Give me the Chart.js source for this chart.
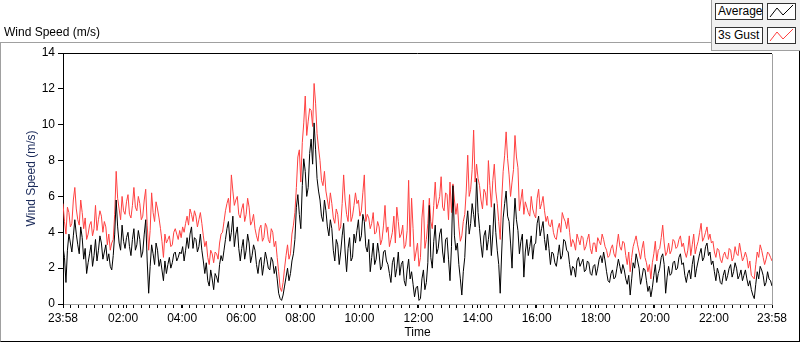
<!DOCTYPE html>
<html>
<head>
<meta charset="utf-8">
<script src="https://cdn.jsdelivr.net/npm/chart.js@4.4.0/dist/chart.umd.min.js"></script>
<style>
html,body{margin:0;padding:0;background:#fff;}
body{width:800px;height:342px;position:relative;overflow:hidden;font-family:"Liberation Sans",Arial,sans-serif;font-size:12px;color:#000;}
#frame{position:absolute;left:0;top:42px;width:798px;height:298px;border-top:1px solid #a0a0a0;border-left:1px solid #a0a0a0;border-right:1px solid #000;border-bottom:1px solid #000;z-index:0;}
#title{position:absolute;left:4px;top:25px;line-height:14px;white-space:nowrap;z-index:3;}
#c{position:absolute;left:0;top:0;z-index:1;}
#legend{position:absolute;left:711px;top:0;width:89px;height:51px;box-sizing:border-box;background:#f0f0f0;border-left:1px solid #a0a0a0;border-bottom:1px solid #a0a0a0;z-index:2;}
.lbl{position:absolute;left:3px;width:48px;height:17px;box-sizing:border-box;border:1px solid #333;background:#fff;line-height:15px;padding-left:2px;white-space:nowrap;}
.ico{position:absolute;left:55px;width:29px;height:17px;box-sizing:border-box;border:1px solid #333;background:#fff;}
.ico svg{position:absolute;left:0;top:0;}
</style>
</head>
<body>
<div id="frame"></div>
<div id="title">Wind Speed (m/s)</div>
<canvas id="c" width="800" height="342"></canvas>
<div id="legend">
  <div class="lbl" style="top:3px">Average</div>
  <div class="ico" style="top:3px"><svg width="27" height="15"><polyline points="2,13 9,4 15,11 25,1" fill="none" stroke="#000" stroke-width="1"/></svg></div>
  <div class="lbl" style="top:27px">3s Gust</div>
  <div class="ico" style="top:27px"><svg width="27" height="15"><polyline points="2,13 9,4 15,11 25,1" fill="none" stroke="#ff4040" stroke-width="1"/></svg></div>
</div>
<script>
// Sampling interval (minutes) from the 23:58 start
const sampleMinutes = 3;

// Average wind speed (m/s), one value every 3 minutes
const avgSpeed = [
  3.2,2.6,1.2,3.0,3.9,3.4,2.9,3.8,4.7,3.9,3.3,2.8,4.3,3.7,2.5,3.1,1.7,2.3,2.8,3.3,2.1,2.7,3.6,2.4,3.0,3.8,3.4,2.5,2.9,3.3,2.4,2.8,2.1,1.9,2.7,3.9,5.8,4.3,3.4,3.0,
  4.4,3.5,3.1,3.7,4.0,3.2,2.7,3.6,4.2,3.0,3.3,4.1,3.6,2.6,2.9,3.9,4.7,2.4,0.6,2.1,3.3,2.8,2.2,3.4,3.0,2.1,2.5,1.9,1.3,2.4,1.7,2.2,2.6,2.0,2.3,2.8,2.9,2.4,2.6,2.9,
  2.8,3.2,2.4,3.0,3.7,3.1,3.9,4.3,3.1,3.7,3.6,2.9,3.2,3.9,3.0,2.4,1.7,2.3,1.3,1.0,1.9,1.4,0.8,1.7,1.5,1.2,2.2,2.7,2.4,3.0,3.6,4.2,4.6,3.5,4.0,4.9,3.2,3.9,4.3,3.1,
  2.4,3.1,3.6,2.5,3.0,3.9,3.4,2.3,2.7,3.3,3.0,2.2,1.7,2.4,2.6,1.6,2.2,2.9,2.5,2.0,1.9,2.6,2.4,1.7,2.1,1.4,0.6,0.3,0.2,0.5,1.0,1.5,2.0,1.3,1.7,2.4,2.8,3.6,5.4,6.1,
  5.0,4.2,6.6,8.1,7.4,6.0,6.5,8.4,9.2,7.8,10.1,8.6,7.0,6.3,5.8,4.9,4.6,5.8,5.2,4.3,3.8,4.7,4.2,3.0,2.4,3.6,3.3,2.2,2.9,3.8,4.5,2.9,1.8,3.1,3.7,2.4,2.6,3.9,3.4,4.1,
  4.7,3.5,3.8,5.0,4.6,3.2,2.9,3.6,1.8,2.6,3.4,2.2,2.5,3.4,2.8,1.9,2.1,2.9,3.0,2.4,2.2,1.7,1.2,2.3,2.6,1.5,2.0,2.9,1.6,2.2,2.4,1.3,1.0,1.9,2.5,1.4,1.8,1.1,0.4,0.9,
  1.0,0.2,0.3,1.4,1.9,0.8,1.2,2.3,5.5,2.6,2.0,3.5,4.4,2.8,3.1,3.9,4.2,2.9,2.3,3.6,3.7,2.5,1.3,3.2,6.6,3.8,3.0,3.4,2.2,1.4,0.5,1.8,2.6,4.4,5.2,3.9,4.5,5.6,5.0,4.3,
  7.0,5.1,4.2,3.3,2.6,3.8,4.1,3.0,3.6,4.4,2.7,3.9,5.6,4.0,3.0,2.2,0.6,2.9,4.8,5.6,6.3,4.9,4.6,3.4,2.0,4.3,5.9,4.7,4.1,2.8,3.5,3.9,1.5,2.9,3.6,2.7,3.2,3.8,2.5,3.3,
  3.4,4.5,4.9,3.8,4.2,4.6,3.6,3.0,3.9,3.1,2.2,2.9,2.8,2.3,2.1,2.7,3.3,2.5,2.7,3.6,3.5,3.0,2.9,2.2,1.6,2.1,2.0,1.5,2.4,2.6,2.1,2.3,2.5,1.8,1.9,2.4,2.3,1.7,1.6,2.1,
  2.2,1.6,2.0,2.5,2.7,2.3,2.9,2.4,1.8,1.3,1.2,1.7,1.9,1.4,1.5,2.0,2.5,2.1,1.7,2.2,1.9,1.4,1.1,1.6,0.5,1.4,2.3,2.0,2.8,2.4,2.0,1.1,1.5,2.0,1.9,1.3,0.7,1.0,0.4,0.9,
  1.6,2.2,1.2,1.7,2.0,2.6,2.8,2.2,0.6,1.5,2.1,1.6,1.7,2.3,2.4,1.9,2.0,2.6,2.8,2.2,2.3,1.6,1.2,1.7,1.9,1.4,2.2,2.7,1.5,2.0,2.4,2.8,3.1,2.4,2.6,3.2,3.4,2.7,2.9,2.2,
  2.4,1.8,1.3,2.0,1.7,1.2,1.1,1.6,1.9,1.3,1.6,2.0,2.2,1.5,1.8,2.3,2.0,1.4,1.6,1.9,1.3,1.6,1.9,1.4,1.0,1.3,0.8,0.5,0.3,1.1,1.8,1.4,2.1,1.9,1.6,1.0,1.2,1.8,1.4,1.3,1.0
];

// 3s gust wind speed (m/s), one value every 3 minutes
const gustSpeed = [
  5.6,4.6,3.9,5.4,5.1,4.3,4.5,5.8,6.5,5.3,4.7,4.4,5.8,5.1,4.2,4.8,3.6,3.9,4.4,4.6,3.8,4.2,5.5,4.1,4.7,5.2,4.9,4.0,4.6,4.3,3.3,3.9,3.0,3.4,3.6,5.0,7.4,5.9,5.3,4.7,
  6.0,5.2,5.0,5.7,6.1,5.0,4.8,5.5,6.5,5.4,5.2,6.0,5.6,4.7,4.9,5.8,6.4,4.4,3.0,4.1,6.2,5.1,4.6,5.7,5.3,4.8,4.2,3.5,2.6,3.9,3.4,3.6,3.8,3.2,3.3,4.0,4.2,3.9,3.6,4.1,
  3.7,4.3,4.0,4.5,4.9,4.4,5.3,5.0,4.6,5.2,4.9,4.3,4.7,5.1,4.5,3.8,3.2,3.5,2.6,2.2,3.0,2.8,2.3,2.9,2.8,2.5,3.4,3.9,4.0,4.6,5.2,5.6,5.9,5.1,7.2,6.3,5.5,5.8,6.0,5.0,
  4.8,5.3,5.6,4.6,5.0,5.9,5.4,4.4,4.6,5.0,4.2,3.8,3.5,4.2,4.4,3.5,3.7,4.5,4.3,3.6,3.4,4.2,4.0,3.2,3.5,2.6,1.8,0.9,0.7,1.2,2.0,2.7,3.3,2.5,2.8,3.9,4.4,5.1,6.5,8.2,
  8.6,6.8,9.0,10.1,11.6,9.4,10.2,10.9,10.8,9.9,12.3,11.2,9.5,8.7,8.0,6.9,6.6,7.4,6.3,5.8,5.3,6.2,5.6,4.8,4.5,5.3,5.0,4.1,4.3,5.6,7.2,5.8,5.0,4.6,6.1,4.6,4.9,5.5,6.2,5.6,
  5.8,4.9,5.2,6.2,7.2,4.6,5.0,4.8,4.2,4.5,5.1,3.9,4.0,4.6,4.3,3.3,3.6,4.4,5.5,4.0,4.3,3.2,3.6,4.0,4.9,3.4,5.4,4.6,3.7,3.9,4.4,3.1,3.3,4.1,6.9,3.2,5.9,4.2,2.4,2.9,
  3.4,2.1,2.6,4.8,5.8,3.1,3.6,4.5,5.9,4.6,4.2,5.5,6.8,5.3,5.6,6.0,7.1,5.4,5.2,6.2,6.1,4.7,6.8,5.1,6.7,5.8,5.0,5.6,4.3,3.5,3.8,4.6,5.0,6.3,8.3,6.0,6.4,7.5,9.7,6.8,
  7.8,7.0,6.6,5.8,5.3,6.4,6.2,5.5,8.0,6.6,5.4,6.9,7.8,6.3,5.6,4.6,3.6,5.8,7.4,8.3,9.6,8.1,7.2,6.0,6.8,7.5,9.4,8.2,7.6,5.2,5.8,6.4,5.0,5.7,5.4,5.1,4.9,6.0,5.3,5.0,
  4.8,5.9,6.4,5.3,5.6,6.0,5.2,4.6,4.9,4.4,4.3,4.7,4.0,3.7,3.6,4.2,4.5,4.0,5.1,4.8,4.6,4.2,4.8,4.0,3.2,3.6,3.4,3.0,3.9,3.6,3.3,3.8,3.7,3.0,3.2,3.6,3.9,3.1,2.8,3.4,
  3.4,2.9,3.7,3.5,3.3,3.9,3.6,3.2,3.0,2.6,2.7,3.1,3.3,2.8,2.6,3.3,3.9,3.2,3.0,3.5,3.4,2.7,2.2,2.9,1.8,2.6,3.2,3.5,3.8,3.3,2.9,2.5,3.1,3.5,2.6,2.3,1.8,2.2,1.4,2.3,
  2.8,3.5,2.4,3.0,3.1,3.7,4.4,3.4,2.7,2.9,3.4,2.8,3.0,3.6,3.5,3.1,3.2,3.6,3.8,3.2,3.4,2.9,2.6,3.0,3.8,2.7,3.3,3.9,2.8,3.2,3.5,4.0,4.5,3.5,3.7,4.0,4.3,3.6,3.9,3.4,
  3.5,2.9,2.6,3.1,3.0,2.5,2.3,2.7,2.9,2.6,2.5,3.1,3.0,2.4,2.6,3.2,2.8,2.7,3.4,2.9,2.4,2.6,2.9,2.6,2.0,2.4,1.6,1.5,1.4,2.2,2.9,2.6,3.3,3.0,2.6,2.2,2.5,2.9,2.8,2.6,2.4
];

// Time axis labels (minutes after 23:58) and their texts
const xTickMinutes = [0,122,242,362,482,602,722,842,962,1082,1202,1322,1440];
const xTickLabels  = ['23:58','02:00','04:00','06:00','08:00','10:00','12:00','14:00','16:00','18:00','20:00','22:00','23:58'];
const yTickValues  = [0,2,4,6,8,10,12,14];
const seriesNames  = ['Average','3s Gust'];

const FONT = {family:'"Liberation Sans", Arial, sans-serif', size:12};

const toXY = arr => arr.map((v,i)=>({x:i*sampleMinutes, y:v}));

const framePlugin = {
  id:'plotFrame',
  afterDraw(chart){
    const {ctx, chartArea:a} = chart;
    ctx.save();
    ctx.lineWidth = 1;
    ctx.strokeStyle = '#000';
    ctx.beginPath();
    ctx.moveTo(a.left, a.top + 0.5);
    ctx.lineTo(a.right, a.top + 0.5);
    ctx.stroke();
    ctx.strokeStyle = '#a0a0a0';
    ctx.beginPath();
    ctx.moveTo(a.right + 0.5, a.top + 1);
    ctx.lineTo(a.right + 0.5, a.bottom);
    ctx.stroke();
    ctx.restore();
  }
};

new Chart(document.getElementById('c'), {
  type:'line',
  data:{
    datasets:[
      {label:seriesNames[0], data:toXY(avgSpeed), borderColor:'#000', borderWidth:1, pointRadius:0, tension:0},
      {label:seriesNames[1], data:toXY(gustSpeed), borderColor:'#ff4040', borderWidth:1, pointRadius:0, tension:0}
    ]
  },
  options:{
    responsive:false,
    devicePixelRatio:1,
    animation:false,
    events:[],
    layout:{padding:{left:0, top:53, right:28, bottom:0}},
    plugins:{legend:{display:false}, tooltip:{enabled:false}},
    scales:{
      x:{
        type:'linear', min:0, max:1440,
        afterFit(s){ s.height = 38; },
        afterBuildTicks(s){
          const set = new Set(xTickMinutes);
          for(let m=0; m<=1440; m+=16) set.add(m);
          s.ticks = [...set].sort((a,b)=>a-b).map(v=>({value:v}));
        },
        ticks:{autoSkip:false, maxRotation:0, minRotation:0, padding:3, color:'#000', font:FONT,
          callback(v){ const k = xTickMinutes.indexOf(v); return k>=0 ? xTickLabels[k] : ''; }},
        grid:{drawOnChartArea:false, drawTicks:true, tickLength:4, tickColor:'#000'},
        border:{display:true, color:'#a0a0a0'},
        title:{display:true, text:'Time', color:'#000', font:FONT, padding:{top:0, bottom:2}}
      },
      y:{
        min:0, max:14,
        afterFit(s){ s.width = 63; },
        afterBuildTicks(s){ s.ticks = yTickValues.map(v=>({value:v})); },
        ticks:{padding:3, color:'#000', font:FONT},
        grid:{drawOnChartArea:false, drawTicks:true, tickLength:5, tickColor:'#000'},
        border:{display:true, color:'#000'},
        title:{display:true, text:'Wind Speed (m/s)', color:'#1a2a5a', font:FONT, padding:{top:24, bottom:0}}
      }
    }
  },
  plugins:[framePlugin]
});
</script>
</body>
</html>
